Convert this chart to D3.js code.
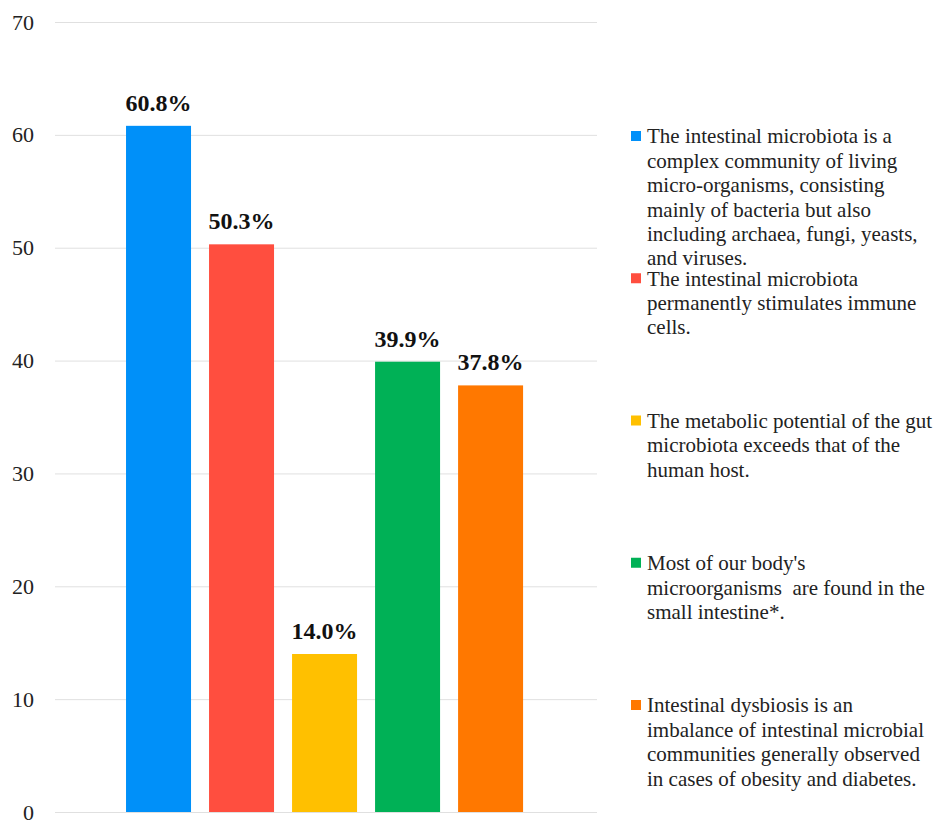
<!DOCTYPE html>
<html><head><meta charset="utf-8">
<script src="https://cdn.jsdelivr.net/npm/d3@7"></script>
<style>body{margin:0;background:#fff}</style>
</head><body>
<svg id="chart" width="949" height="820"></svg>
<script>
const series = ["s1","s2","s3","s4","s5"];
const values = [60.8, 50.3, 14.0, 39.9, 37.8];
const valueLabels = ["60.8%","50.3%","14.0%","39.9%","37.8%"];
const colors = ["#0090F9","#FF4E3F","#FFC000","#00B156","#FF7800"];
const yTicks = [0,10,20,30,40,50,60,70];
const legendLines = [
  ["The intestinal microbiota is a","complex community of living","micro-organisms, consisting","mainly of bacteria but also","including archaea, fungi, yeasts,","and viruses."],
  ["The intestinal microbiota","permanently stimulates immune","cells."],
  ["The metabolic potential of the gut","microbiota exceeds that of the","human host."],
  ["Most of our body's","microorganisms\u00a0 are found in the","small intestine*."],
  ["Intestinal dysbiosis is an","imbalance of intestinal microbial","communities generally observed","in cases of obesity and diabetes."]
];

const svg = d3.select("#chart");
const font = "'Liberation Serif','Times New Roman',serif";
const mLeft = 55, mRight = 597, mTop = 22, mBottom = 812;

const y = d3.scaleLinear().domain([0,70]).range([mBottom, mTop]);
const x = d3.scaleBand().domain(series).range([mLeft, mRight]).paddingInner(0.217).paddingOuter(0.873).align(0.49);

// gridlines
svg.append("g").selectAll("line").data(yTicks).join("line")
  .attr("x1", mLeft).attr("x2", mRight)
  .attr("y1", d => y(d)+0.5).attr("y2", d => y(d)+0.5)
  .attr("stroke", "#e0e0e0").attr("stroke-width", 1);

// y axis labels
const yAxis = d3.axisLeft(y).tickValues(yTicks).tickSize(0).tickPadding(0).tickFormat(d3.format("d"));
const ga = svg.append("g").attr("transform", `translate(34,0)`).call(yAxis);
ga.select(".domain").remove();
ga.selectAll("text").attr("font-family", font).attr("font-size", 22).attr("fill", "#222");

// bars
svg.append("g").selectAll("rect").data(series).join("rect")
  .attr("x", d => x(d)).attr("width", x.bandwidth())
  .attr("y", (d,i) => y(values[i])).attr("height", (d,i) => y(0) - y(values[i]))
  .attr("fill", (d,i) => colors[i]);

// value labels
svg.append("g").selectAll("text").data(series).join("text")
  .attr("x", d => x(d) + x.bandwidth()/2)
  .attr("y", (d,i) => y(values[i]) - 15)
  .attr("text-anchor", "middle")
  .attr("font-family", font).attr("font-size", 24).attr("font-weight", "bold").attr("fill", "#111")
  .text((d,i) => valueLabels[i]);

// legend
const ly = d3.scalePoint().domain(series).range([136, 705]);
const lg = svg.append("g").selectAll("g").data(series).join("g")
  .attr("transform", d => `translate(631,${ly(d)})`);
lg.append("rect").attr("x", 0).attr("y", -5).attr("width", 10).attr("height", 10)
  .attr("fill", (d,i) => colors[i]);
lg.append("text").attr("font-family", font).attr("font-size", 21).attr("fill", "#222")
  .selectAll("tspan").data((d,i) => legendLines[i]).join("tspan")
  .attr("x", 16).attr("y", (d,j) => j*24.4).attr("dy", "0.35em")
  .attr("xml:space", "preserve")
  .text(d => d);
</script>
</body></html>
